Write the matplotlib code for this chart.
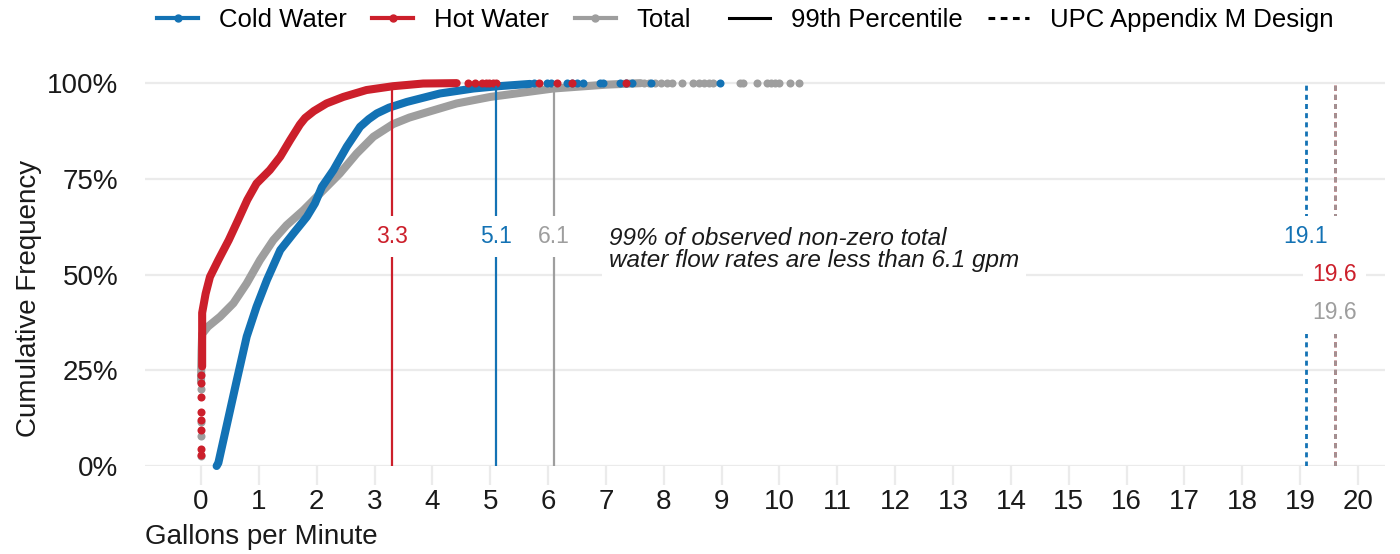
## cumulative frequency of water flow rates, cold / hot / total
from matplotlib import pyplot as plt
from matplotlib.lines import Line2D
from matplotlib.ticker import PercentFormatter

plt.rcParams['font.family'] = ['Liberation Sans', 'DejaVu Sans']

# colours per series
cold_col = '#1372b4'
hot_col = '#cc1f2b'
total_col = '#9e9e9e'

# main body of each ECDF (gpm, cumulative share)
cold_x = [0.27, 0.30, 0.44, 0.62, 0.79, 0.96, 1.14, 1.37, 1.60, 1.83, 1.97, 2.09, 2.29, 2.52,
          2.75, 2.90, 3.04, 3.25, 3.56, 4.13, 4.71, 5.14, 5.69]
cold_y = [0.0, 0.008, 0.103, 0.225, 0.338, 0.416, 0.486, 0.564, 0.608, 0.651, 0.686, 0.729,
          0.773, 0.834, 0.886, 0.906, 0.921, 0.936, 0.951, 0.973, 0.986, 0.992, 0.998]

hot_x = [0.02, 0.02, 0.08, 0.155, 0.30, 0.48, 0.64, 0.80, 0.96, 1.19, 1.37, 1.54, 1.71, 1.80,
         1.95, 2.17, 2.46, 2.86, 3.32, 3.84, 4.42]
hot_y = [0.26, 0.40, 0.45, 0.494, 0.538, 0.59, 0.642, 0.695, 0.738, 0.773, 0.808, 0.851, 0.892,
         0.909, 0.927, 0.947, 0.964, 0.982, 0.992, 0.999, 1.0]

total_x = [0.0, 0.01, 0.02, 0.12, 0.33, 0.56, 0.79, 1.02, 1.25, 1.48, 1.77, 2.0, 2.40, 2.69,
           2.98, 3.32, 3.60, 3.84, 4.42, 5.0, 6.09, 7.0, 7.6]
total_y = [0.22, 0.30, 0.345, 0.364, 0.390, 0.425, 0.477, 0.538, 0.590, 0.629, 0.668, 0.703,
           0.764, 0.816, 0.860, 0.893, 0.910, 0.921, 0.947, 0.964, 0.986, 0.996, 1.0]

# isolated points near zero flow
hot_low_y = [0.03, 0.045, 0.094, 0.12, 0.142, 0.181, 0.216, 0.238]
total_low_y = [0.026, 0.078, 0.116, 0.20]

# isolated points in the upper tail (all at ~100%)
hot_tail = [4.62, 4.74, 4.85, 4.92, 4.98, 5.04, 5.1, 5.85, 6.15, 6.41, 7.35]
cold_tail = [5.75, 5.98, 6.05, 6.33, 6.42, 6.5, 6.6, 6.9, 6.95, 7.24, 7.35, 7.45, 7.78, 8.97]
total_tail = [7.65, 7.75, 7.85, 7.95, 8.05, 8.15, 8.31, 8.5, 8.6, 8.7, 8.78, 8.85, 9.32, 9.37,
              9.61, 9.78, 9.85, 9.92, 10.0, 10.18, 10.34]

# 99th percentile and UPC Appendix M design flow
pct99 = {'Cold': 5.1, 'Hot': 3.3, 'Total': 6.1}
upc = {'Cold': 19.1, 'Hot': 19.6, 'Total': 19.6}
upc_label_y = {'Cold': 0.6, 'Hot': 0.5, 'Total': 0.4}

fig = plt.figure(figsize=(14, 5.54), dpi=100)
ax = fig.add_axes([145 / 1400, 88 / 554, 1240 / 1400, 402 / 554])

lw_curve = 5.8
ms = 5.8
# draw order: total, cold, hot
for xs, ys, low, tail, col in [(total_x, total_y, total_low_y, total_tail, total_col),
                               (cold_x, cold_y, [], cold_tail, cold_col),
                               (hot_x, hot_y, hot_low_y, hot_tail, hot_col)]:
    ax.plot(xs, ys, color=col, lw=lw_curve, solid_capstyle='round', solid_joinstyle='round',
            clip_on=False, zorder=3)
    if low:
        ax.plot([0.0] * len(low), low, 'o', color=col, ms=ms, mew=0, clip_on=False, zorder=3)
    ax.plot(tail, [1.0] * len(tail), 'o', color=col, ms=ms, mew=0, clip_on=False, zorder=3)

cols = {'Cold': cold_col, 'Hot': hot_col, 'Total': total_col}
box = dict(boxstyle='square,pad=0.4', fc='white', ec='none')

# 99th percentile lines
for k in ['Hot', 'Cold', 'Total']:
    ax.plot([pct99[k], pct99[k]], [0, 0.99], color=cols[k], lw=1.6, zorder=4)
    ax.text(pct99[k], 0.6, f'{pct99[k]:.1f}', color=cols[k], fontsize=16.5, ha='center',
            va='center', zorder=6, bbox=box)

# UPC design lines
dash = (0, (1.8, 1.5))
ax.plot([upc['Cold']] * 2, [0, 1.0], color=cold_col, lw=2, linestyle=dash, zorder=4)
ax.plot([upc['Hot']] * 2, [0, 1.0], color=hot_col, lw=2, linestyle=dash, zorder=4)
ax.plot([upc['Total']] * 2, [0, 1.0], color=total_col, lw=2, linestyle=dash, alpha=0.93,
        zorder=4)
for k in ['Cold', 'Hot', 'Total']:
    ax.text(upc[k], upc_label_y[k], f'{upc[k]:.1f}', color=cols[k], fontsize=16.5, ha='center',
            va='center', zorder=6, bbox=box)

ax.text(7.05, 0.565, '99% of observed non-zero total\nwater flow rates are less than 6.1 gpm',
        fontsize=17.5, style='italic', ha='left', va='center', linespacing=0.95,
        color='#1a1a1a', zorder=6,
        bbox=dict(boxstyle='square,pad=0.3', fc='white', ec='none'))

# axes styling
ax.set_xlim(-0.968, 20.467)
ax.set_ylim(0, 1.05)
ax.set_xticks(range(21))
ax.set_yticks([0, 0.25, 0.5, 0.75, 1.0])
ax.yaxis.set_major_formatter(PercentFormatter(1.0, decimals=0))
ax.yaxis.grid(True, color='#ebebeb', lw=1.6, zorder=0)
ax.set_axisbelow(True)
for s in ax.spines.values():
    s.set_visible(False)
ax.tick_params(axis='x', length=13.7, width=1.6, color='#ebebeb', labelsize=20, pad=3,
               labelcolor='#1a1a1a')
ax.tick_params(axis='y', length=0, labelsize=20, pad=19, labelcolor='#1a1a1a')

fig.text(145 / 1400, 1 - 537 / 554, 'Gallons per Minute', fontsize=20, ha='left',
         va='center', color='#1a1a1a')
fig.text(29 / 1400, 1 - 298 / 554, 'Cumulative Frequency', fontsize=20, rotation=90,
         ha='center', va='center', color='#1a1a1a')

# legends
color_handles = [Line2D([], [], color=c, lw=3, marker='o', ms=5, label=l)
                 for c, l in [(cold_col, 'Cold Water'), (hot_col, 'Hot Water'),
                              (total_col, 'Total')]]
lt_handles = [Line2D([], [], color='black', lw=2.2, label='99th Percentile'),
              Line2D([], [], color='black', lw=2.2, linestyle=(0, (2.2, 1.8)),
                     label='UPC Appendix M Design')]
leg_kw = dict(loc='center', frameon=False, fontsize=18.5, handlelength=1.6,
              handletextpad=0.8, columnspacing=1.0, borderaxespad=0)
fig.legend(handles=color_handles, ncol=3, bbox_to_anchor=(424 / 1400, 1 - 20 / 554), **leg_kw)
fig.legend(handles=lt_handles, ncol=2, bbox_to_anchor=(1031 / 1400, 1 - 20 / 554), **leg_kw)

fig.savefig('out.png', dpi=100, facecolor='white')
